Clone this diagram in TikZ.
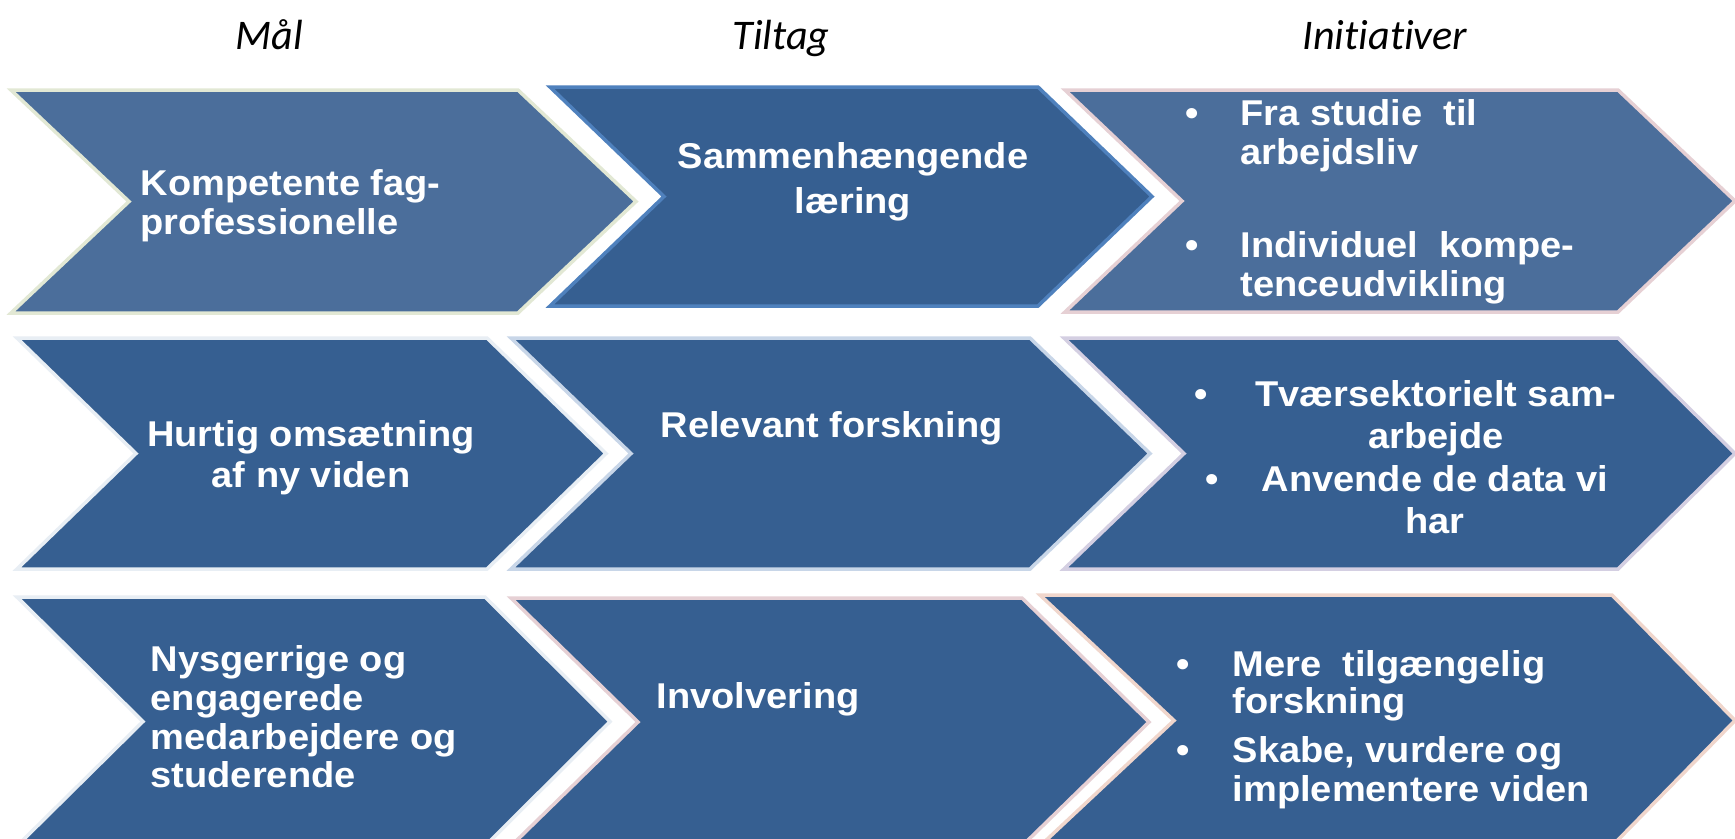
\documentclass[tikz,border=0pt]{standalone}
\usepackage{fontspec}
\usepackage{tikz}
\newfontfamily\bodyfont{Liberation Sans}[FakeStretch=1.06]
\newfontfamily\headfont{Carlito}[Ligatures=NoCommon]
\definecolor{chevlight}{RGB}{75,110,155}
\definecolor{chevdark}{RGB}{54,95,145}
\definecolor{glowcream}{RGB}{226,232,212}
\definecolor{glowblue}{RGB}{79,129,189}
\definecolor{glowpink}{RGB}{230,208,212}
\definecolor{glowpale}{RGB}{232,238,244}
\definecolor{glowsky}{RGB}{200,214,232}
\definecolor{glowlilac}{RGB}{212,207,226}
\definecolor{glowpeach}{RGB}{240,214,204}
\tikzset{
  lightchev/.style={fill=chevlight, line width=1pt, line join=miter},
  darkchev/.style={fill=chevdark, line width=1pt, line join=miter},
  head/.style={font=\headfont\itshape\fontsize{12pt}{14pt}\selectfont, text=black, inner sep=0pt, anchor=base},
  body/.style={font=\bodyfont\bfseries\fontsize{10.2pt}{#1}\selectfont, text=white, inner sep=0pt},
  body/.default=11.1pt,
  dot/.style={body, anchor=base}
}

\begin{document}
\begin{tikzpicture}[x=0.01cm,y=-0.01cm]
  \useasboundingbox (0,0) rectangle (1735,838);
  \clip (0,0) rectangle (1735,838);
  \fill[white] (0,0) rectangle (1735,838);

  % column heads
  \node[head] (maal) at (269,49) {Mål};
  \node[head] (tiltag) at (781,49) {Tiltag};
  \node[head] (initiativer) at (1385,49) {Initiativer};

  % row 1
  \draw[lightchev, draw=glowcream]
    (11,90) -- (518,90) -- (636,201.5) -- (518,313) -- (11,313) -- (129,201.5) -- cycle;
  \draw[darkchev, draw=glowblue]
    (550,87) -- (1038,87) -- (1152,196.5) -- (1038,306) -- (550,306) -- (664,196.5) -- cycle;
  \draw[lightchev, draw=glowpink]
    (1065,90) -- (1618,90) -- (1735,201) -- (1618,312) -- (1065,312) -- (1182,201) -- cycle;

  \node[body=11.1pt, align=left, anchor=north west] (kompetente) at (140,169)
    {Kompetente fag-\\professionelle};
  \node[body=12.8pt, align=center, anchor=north] (sammenh) at (853,142)
    {Sammenhængende\\læring};
  \node[dot] (dotA) at (1192,125) {•};
  \node[body=11.1pt, align=left, anchor=north west] (studie) at (1240,99)
    {Fra studie~~til\\arbejdsliv};
  \node[dot] (dotB) at (1192,257) {•};
  \node[body=11.1pt, align=left, anchor=north west] (individuel) at (1240,231)
    {Individuel~~kompe-\\tenceudvikling};

  % row 2
  \draw[darkchev, draw=glowpale]
    (17,338) -- (487,338) -- (606,453.5) -- (487,569) -- (17,569) -- (136,453.5) -- cycle;
  \draw[darkchev, draw=glowsky]
    (511,338) -- (1030,338) -- (1150,453.5) -- (1030,569) -- (511,569) -- (631,453.5) -- cycle;
  \draw[darkchev, draw=glowlilac]
    (1064,338) -- (1618,338) -- (1735,453.5) -- (1618,569) -- (1064,569) -- (1184,453.5) -- cycle;

  \node[body=11.7pt, align=center, anchor=north] (hurtig) at (311,420)
    {Hurtig omsætning\\af ny viden};
  \node[body, anchor=base west] (relevant) at (660,437) {Relevant forskning};
  \node[dot] (dotC) at (1201,406) {•};
  \node[body=11.95pt, align=center, anchor=north] (tvaer) at (1436,380)
    {Tværsektorielt sam-\\arbejde};
  \node[dot] (dotD) at (1212,491) {•};
  \node[body=11.95pt, align=center, anchor=north] (anvende) at (1435,465)
    {Anvende de data vi\\har};

  % row 3
  \draw[darkchev, draw=glowpale]
    (17,597) -- (485,597) -- (610,721.5) -- (485,846) -- (17,846) -- (143,721.5) -- cycle;
  \draw[darkchev, draw=glowpink]
    (511,598) -- (1022,598) -- (1149,722) -- (1022,846) -- (511,846) -- (638,722) -- cycle;
  \draw[darkchev, draw=glowpeach]
    (1040,595) -- (1612,595) -- (1735,720.5) -- (1612,846) -- (1040,846) -- (1174,720.5) -- cycle;

  \node[body=11pt, align=left, anchor=north west] (nysgerrige) at (150,645)
    {Nysgerrige og\\engagerede\\medarbejdere og\\studerende};
  \node[body, anchor=base west] (involvering) at (656,708) {Involvering};
  \node[dot] (dotE) at (1183,676) {•};
  \node[body=10.5pt, align=left, anchor=north west] (tilgaengelig) at (1232,650)
    {Mere~~tilgængelig\\forskning};
  \node[dot] (dotF) at (1183,762) {•};
  \node[body=11.1pt, align=left, anchor=north west] (skabe) at (1232,736)
    {Skabe, vurdere og\\implementere viden};
\end{tikzpicture}
\end{document}
